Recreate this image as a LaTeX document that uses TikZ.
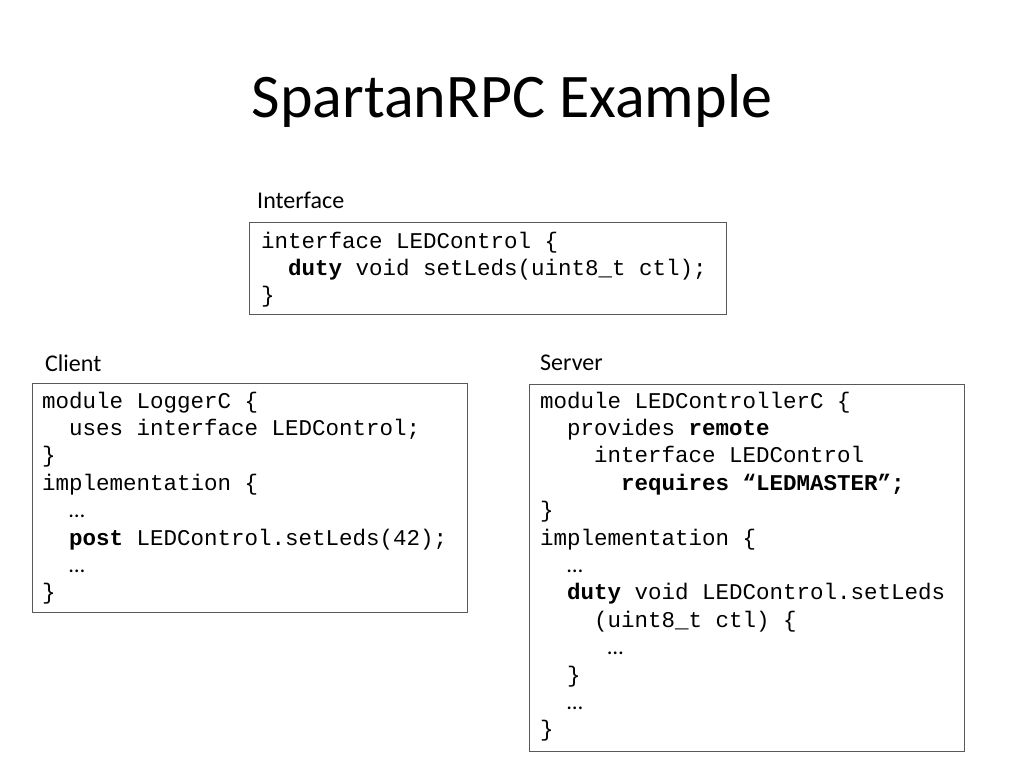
\documentclass[tikz,border=0pt]{standalone}
\usepackage{fontspec}
\setmainfont{Carlito}
\setmonofont{Liberation Mono}
\newfontfamily\ellfont{Carlito}
\newcommand\ind[1]{\hspace*{#1\dimexpr 13.5pt\relax}}
\newcommand\ellip{{\ellfont …}}
\begin{document}
\begin{tikzpicture}[x=1pt,y=1pt,
  box/.style={draw=black!65, line width=1.1pt, inner sep=0pt, anchor=north west},
  code/.style={anchor=base west, inner sep=0pt, align=left, font=\ttfamily\fontsize{22.5}{27.4}\selectfont},
  label/.style={anchor=base west, inner sep=0pt, font=\fontsize{24}{28}\selectfont}]
\useasboundingbox[fill=white] (0,0) rectangle (1024,-768);
\node[anchor=base, inner sep=0pt, font=\fontsize{62}{72}\selectfont] (title) at (512,-117) {SpartanRPC Example};

\node[label] (iflabel) at (257,-208) {Interface};
\node[box, minimum width=477, minimum height=92] (ifbox) at (249,-222) {};
% base anchor = last line baseline
\node[code] (iftext) at (261,-302.8) {interface LEDControl \{\\
\ind{2}\textbf{duty} void setLeds(uint8\_t ctl);\\
\}};

\node[label] (clabel) at (45,-371) {Client};
\node[box, minimum width=435, minimum height=229] (cbox) at (32,-383) {};
\node[code] (ctext) at (42,-599.8) {module LoggerC \{\\
\ind{2}uses interface LEDControl;\\
\}\\
implementation \{\\
\ind{2}\ellip\\
\ind{2}\textbf{post} LEDControl.setLeds(42);\\
\ind{2}\ellip\\
\}};

\node[label] (slabel) at (540,-370) {Server};
\node[box, minimum width=435, minimum height=367] (sbox) at (529,-384) {};
\node[code] (stext) at (540,-736.8) {module LEDControllerC \{\\
\ind{2}provides \textbf{remote}\\
\ind{4}interface LEDControl\\
\ind{6}\textbf{requires “LEDMASTER”;}\\
\}\\
implementation \{\\
\ind{2}\ellip\\
\ind{2}\textbf{duty} void LEDControl.setLeds\\
\ind{4}(uint8\_t ctl) \{\\
\ind{5}\ellip\\
\ind{2}\}\\
\ind{2}\ellip\\
\}};
\end{tikzpicture}
\end{document}
